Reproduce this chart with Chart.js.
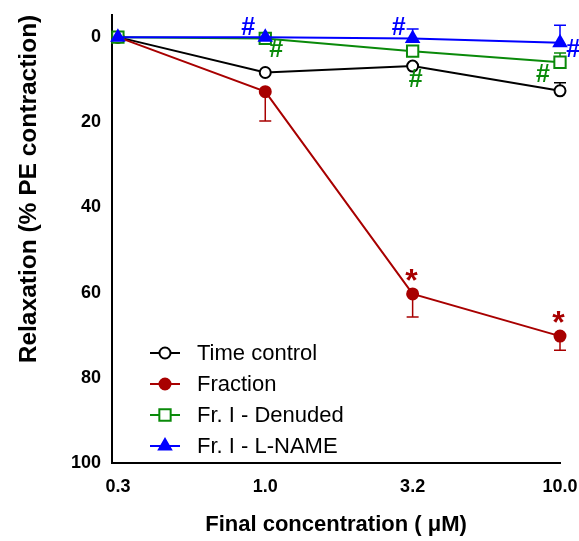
<!DOCTYPE html>
<html lang="en">
<head>
<meta charset="UTF-8">
<title>Relaxation</title>
<script src="https://cdn.jsdelivr.net/npm/chart.js@4.4.0/dist/chart.umd.min.js"></script>
<style>
  html, body { margin: 0; padding: 0; background: #fff; }
  #wrap { width: 579px; height: 541px; }
</style>
</head>
<body>
<div id="wrap"><canvas id="chart" width="579" height="541"></canvas></div>
<script>
// doses (uM) on the x axis
const doses = ['0.3', '1.0', '3.2', '10.0'];

// mean relaxation (%) and one-sided error (sign = direction)
const timeControl = [0, 8.3, 6.8, 12.6];
const timeControlErr = [0, 0, 0, -1.9];
const fraction = [0, 12.8, 60.3, 70.2];
const fractionErr = [0, 6.9, 5.4, 3.3];
const denuded = [0, 0.3, 3.3, 5.9];
const denudedErr = [0, 0, 0, -2.2];
const lname = [0, 0, 0.3, 1.3];
const lnameErr = [0, 0, -2.2, -4.1];

// significance marks (x in dose index units, y in %)
const markText = ['#', '#', '#', '#', '#', '#', '*', '*'];
const markX = [0.884, 1.075, 1.905, 2.02, 2.884, 3.09, 1.993, 2.99];
const markY = [-2.1, 3.05, -2.1, 10.1, 8.9, 3.05, 57.5, 67.5];
const markSeries = [3, 2, 3, 2, 2, 3, 1, 1];

const yTicks = [0, 20, 40, 60, 80, 100];
const yTitle = 'Relaxation (% PE contraction)';

const colors = ['#000000', '#a80000', '#0a8a0a', '#0000ff'];
const FONT = '"Liberation Sans", Arial, sans-serif';

function pts(arr) {
    return arr.map((v, i) => ({ x: i, y: v }));
}

const errs = [timeControlErr, fractionErr, denudedErr, lnameErr];

// error bars, drawn under the markers
const errorBars = {
    id: 'errorBars',
    beforeDatasetsDraw(chart) {
        const ctx = chart.ctx;
        const ys = chart.scales.y;
        chart.data.datasets.forEach((ds, di) => {
            const meta = chart.getDatasetMeta(di);
            errs[di].forEach((e, i) => {
                if (!e) return;
                const p = meta.data[i];
                const yEnd = ys.getPixelForValue(ds.data[i].y + e);
                ctx.save();
                ctx.strokeStyle = colors[di];
                ctx.lineWidth = 1.5;
                ctx.beginPath();
                ctx.moveTo(p.x, p.y);
                ctx.lineTo(p.x, yEnd);
                ctx.moveTo(p.x - 6, yEnd);
                ctx.lineTo(p.x + 6, yEnd);
                ctx.stroke();
                ctx.restore();
            });
        });
    }
};

// # and * marks, plus the y title (sits toward the top of the axis)
const marks = {
    id: 'marks',
    afterDatasetsDraw(chart) {
        const ctx = chart.ctx;
        const xs = chart.scales.x, ys = chart.scales.y;
        ctx.save();
        ctx.textAlign = 'center';
        ctx.textBaseline = 'middle';
        markText.forEach((t, i) => {
            ctx.fillStyle = colors[markSeries[i]];
            ctx.font = t === '*' ? 'bold 32px ' + FONT : 'bold 25px ' + FONT;
            ctx.fillText(t, xs.getPixelForValue(markX[i]), ys.getPixelForValue(markY[i]));
        });
        ctx.translate(29, ys.top + 174);
        ctx.rotate(-Math.PI / 2);
        ctx.fillStyle = '#000';
        ctx.font = 'bold 24.5px ' + FONT;
        ctx.fillText(yTitle, 0, 0);
        ctx.restore();
    }
};

// legend inside the plot, lower left
const innerLegend = {
    id: 'innerLegend',
    afterDraw(chart) {
        const ctx = chart.ctx;
        const x0 = 150, y0 = 353, step = 31;
        ctx.save();
        chart.data.datasets.forEach((ds, i) => {
            const y = y0 + i * step;
            ctx.strokeStyle = ds.borderColor;
            ctx.lineWidth = 2;
            ctx.beginPath();
            ctx.moveTo(x0, y);
            ctx.lineTo(x0 + 30, y);
            ctx.stroke();
            ctx.fillStyle = ds.pointBackgroundColor;
            ctx.strokeStyle = ds.borderColor;
            ctx.lineWidth = ds.pointBorderWidth;
            Chart.helpers.drawPoint(ctx, {
                pointStyle: ds.pointStyle,
                radius: ds.pointRadius,
                borderWidth: ds.pointBorderWidth
            }, x0 + 15, y);
            ctx.fillStyle = '#000';
            ctx.font = '22px ' + FONT;
            ctx.textAlign = 'left';
            ctx.textBaseline = 'middle';
            ctx.fillText(ds.label, x0 + 47, y + 1);
        });
        ctx.restore();
    }
};

function series(label, data, color, style, fill, radius, order) {
    return {
        label: label,
        data: pts(data),
        borderColor: color,
        backgroundColor: fill,
        pointBackgroundColor: fill,
        pointBorderColor: color,
        pointStyle: style,
        pointRadius: radius,
        pointBorderWidth: 2,
        borderWidth: 2,
        clip: false,
        order: order
    };
}

const ctx = document.getElementById('chart').getContext('2d');
const chart = new Chart(ctx, {
    type: 'line',
    data: {
        datasets: [
            series('Time control', timeControl, colors[0], 'circle', '#ffffff', 5.5, 3),
            series('Fraction', fraction, colors[1], 'circle', colors[1], 5.5, 2),
            series('Fr. I - Denuded', denuded, colors[2], 'rect', '#ffffff', 8, 1),
            series('Fr. I - L-NAME', lname, colors[3], 'triangle', colors[3], 7, 0)
        ]
    },
    options: {
        responsive: false,
        animation: false,
        layout: { padding: { left: 0, top: 15, right: 19, bottom: 3 } },
        plugins: {
            legend: { display: false },
            tooltip: { enabled: false }
        },
        scales: {
            x: {
                type: 'linear',
                min: -0.04,
                max: 3,
                afterBuildTicks: (s) => { s.ticks = doses.map((d, i) => ({ value: i })); },
                afterFit: (s) => { s.height = 75; s.paddingRight = 0; s.paddingLeft = 0; },
                grid: { display: false, drawOnChartArea: false, drawTicks: true, tickLength: 8, tickWidth: 2, tickColor: '#000' },
                border: { color: '#000', width: 2 },
                ticks: {
                    callback: (v) => doses[v],
                    color: '#000',
                    font: { family: FONT, size: 18, weight: 'bold' },
                    padding: 5,
                    maxRotation: 0
                },
                title: {
                    display: true,
                    text: 'Final concentration ( \u03bcM)',
                    color: '#000',
                    font: { family: FONT, size: 22, weight: 'bold' },
                    padding: { top: 0, bottom: 0 }
                }
            },
            y: {
                type: 'linear',
                reverse: true,
                min: -5.2,
                max: 100,
                afterBuildTicks: (s) => { s.ticks = yTicks.map(v => ({ value: v })); },
                afterFit: (s) => { s.width = 112; },
                grid: { display: false, drawOnChartArea: false, drawTicks: true, tickLength: 10, tickWidth: 2, tickColor: '#000' },
                border: { color: '#000', width: 2 },
                ticks: {
                    color: '#000',
                    font: { family: FONT, size: 18, weight: 'bold' },
                    padding: 1
                }
            }
        }
    },
    plugins: [errorBars, marks, innerLegend]
});
</script>
</body>
</html>
